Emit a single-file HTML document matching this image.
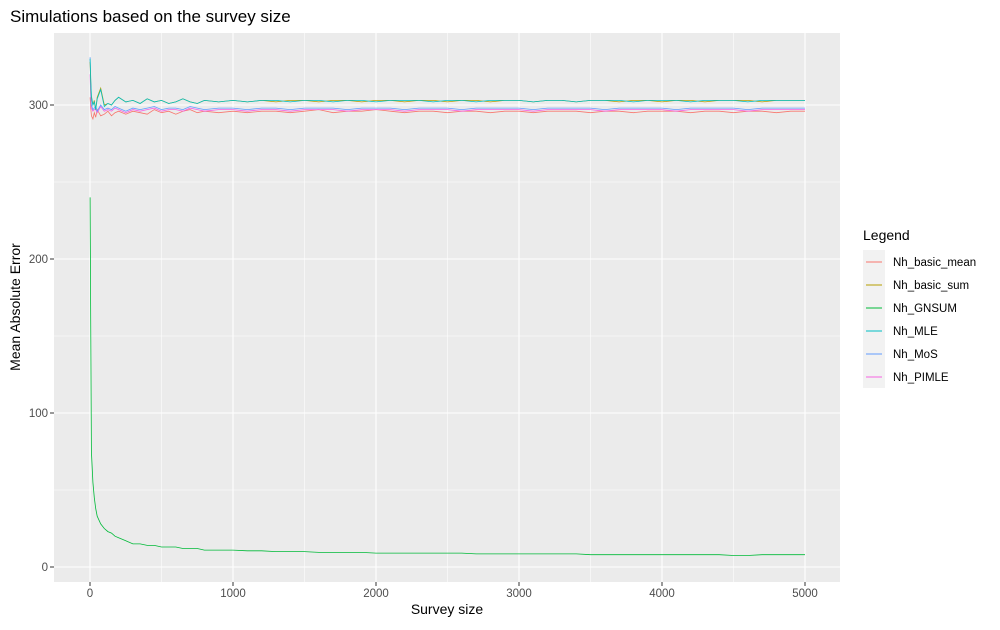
<!DOCTYPE html>
<html><head><meta charset="utf-8"><style>
body{margin:0;background:#fff;font-family:"Liberation Sans",Arial,sans-serif;}
</style></head><body>
<svg id="chart" width="1000" height="625" xmlns="http://www.w3.org/2000/svg">
<rect x="0" y="0" width="1000" height="625" fill="#fff"/>
<text x="10" y="22" font-size="17" fill="#000">Simulations based on the survey size</text>
<rect x="54" y="33" width="786" height="549" fill="#ebebeb"/>
<g id="grid"></g>
<g id="series"></g>
<g id="axes"></g>
<text x="447" y="614" font-size="14" text-anchor="middle">Survey size</text>
<text transform="translate(20,307) rotate(-90)" font-size="14" text-anchor="middle">Mean Absolute Error</text>
<g>
<text x="863" y="240" font-size="14">Legend</text>
<rect x="863" y="250" width="22" height="138" fill="#f2f2f2"/>
<g id="legend"></g>
</g>
</svg>
<script>
const xVals=[1,5,10,20,30,40,50,75,100,125,150,175,200,250,300,350,400,450,500,550,600,650,700,750,800,900,1000,1100,1200,1300,1400,1500,1600,1700,1800,1900,2000,2100,2200,2300,2400,2500,2600,2700,2800,2900,3000,3100,3200,3300,3400,3500,3600,3700,3800,3900,4000,4100,4200,4300,4400,4500,4600,4700,4800,4900,5000];
const basicMean=[305,298,293,291,295,292,297,293,294,296,293,295,296,294,296,295,294,297,295,296,294,296,297,295,296,295,296,295,296,296,295,296,297,295,296,296,297,296,295,296,296,295,296,296,295,296,296,295,296,296,296,295,296,296,295,296,296,296,295,296,296,295,296,296,295,296,296];
const basicSum=[328,315,305,300,303,297,305,311,300,301,300,303,305,302,303,301,304,302,303,301,302,304,302,301,303,302,303,302,303,302,303,303,302,303,303,302,303,303,302,303,303,302,303,303,302,303,303,302,303,303,302,303,303,302,303,303,302,303,303,302,303,303,303,302,303,303,303];
const gnsum=[240,160,75,55,45,38,33,28,25,23,22,20,19,17,15,15,14,14,13,13,13,12,12,12,11,11,11,10.5,10.5,10,10,10,9.5,9.5,9.5,9.5,9,9,9,9,9,9,9,8.5,8.5,8.5,8.5,8.5,8.5,8.5,8.5,8,8,8,8,8,8,8,8,8,8,7.5,7.5,8,8,8,8];
const mle=[330,318,306,300,302,297,304,310,299,301,300,303,305,302,303,301,304,302,303,301,302,304,302,301,303,302,303,302,303,303,302,303,303,302,303,303,302,303,303,303,302,303,303,302,303,303,303,302,303,303,302,303,303,303,302,303,303,303,302,303,303,303,302,303,303,303,303];
const mos=[331,310,300,297,298,299,296,300,297,298,297,299,298,296,298,297,298,299,297,298,298,297,299,298,297,298,298,297,298,298,297,298,298,298,297,298,298,298,297,298,298,298,297,298,298,298,298,297,298,298,298,298,297,298,298,298,298,297,298,298,298,298,297,298,298,298,298];
const pimle=[320,305,298,296,297,297,295,299,296,297,296,298,297,295,297,296,297,298,296,297,297,296,298,297,296,297,297,296,297,297,296,297,297,297,296,297,297,297,296,297,297,297,296,297,297,297,297,296,297,297,297,297,296,297,297,297,297,296,297,297,297,297,296,297,297,297,297];
const seriesNames=["Nh_basic_mean","Nh_basic_sum","Nh_GNSUM","Nh_MLE","Nh_MoS","Nh_PIMLE"];
const seriesData=[basicMean,basicSum,gnsum,mle,mos,pimle];
const colors=["#F8766D","#B79F00","#00BA38","#00BFC4","#619CFF","#F564E3"];
const xTicks=[0,1000,2000,3000,4000,5000];
const yTicks=[0,100,200,300];
const NS="http://www.w3.org/2000/svg";
const X0=54,X1=840,Y0=33,Y1=582;
function sx(v){return 90+v*(805-90)/5000;}
function sy(v){return 567-v*(567-105)/300;}
function mk(t,a,p){const e=document.createElementNS(NS,t);for(const k in a)e.setAttribute(k,a[k]);p.appendChild(e);return e;}
const grid=document.getElementById('grid');
for(let v=-500;v<=5500;v+=500){const x=sx(v);if(x<X0||x>X1)continue;const major=v%1000===0;
const l=mk('line',{x1:x,x2:x,y1:Y0,y2:Y1,stroke:'#fff','stroke-width':major?1.1:0.55},grid);

}
for(let v=-50;v<=350;v+=50){const y=sy(v);if(y<Y0||y>Y1)continue;const major=v%100===0;
const l=mk('line',{x1:X0,x2:X1,y1:y,y2:y,stroke:'#fff','stroke-width':major?1.1:0.55},grid);

}
const ser=document.getElementById('series');
const order=[0,5,4,1,3,2];
order.forEach(i=>{const d=seriesData[i];const pts=d.map((v,j)=>sx(xVals[j]).toFixed(1)+','+sy(v).toFixed(1)).join(' ');
const p=mk('polyline',{points:pts,fill:'none',stroke:colors[i],'stroke-width':0.8},ser);

});
const ax=document.getElementById('axes');
xTicks.forEach(v=>{const x=sx(v);mk('line',{x1:x,x2:x,y1:Y1,y2:Y1+4,stroke:'#333'},ax);
const t=mk('text',{x:x,y:597,'font-size':11.5,fill:'#4d4d4d','text-anchor':'middle'},ax);t.textContent=v;

});
yTicks.forEach(v=>{const y=sy(v);mk('line',{x1:X0-4,x2:X0,y1:y,y2:y,stroke:'#333'},ax);
const t=mk('text',{x:X0-6,y:y+4,'font-size':11.5,fill:'#4d4d4d','text-anchor':'end'},ax);t.textContent=v;

});
const lg=document.getElementById('legend');
seriesNames.forEach((n,i)=>{const y=262+i*23;
const g=mk('g',{},lg);


mk('line',{x1:866,x2:882,y1:y,y2:y,stroke:colors[i],'stroke-width':1},g);
const t=mk('text',{x:893,y:y+4,'font-size':11.5,fill:'#000'},g);t.textContent=n;});
</script>
</body></html>
